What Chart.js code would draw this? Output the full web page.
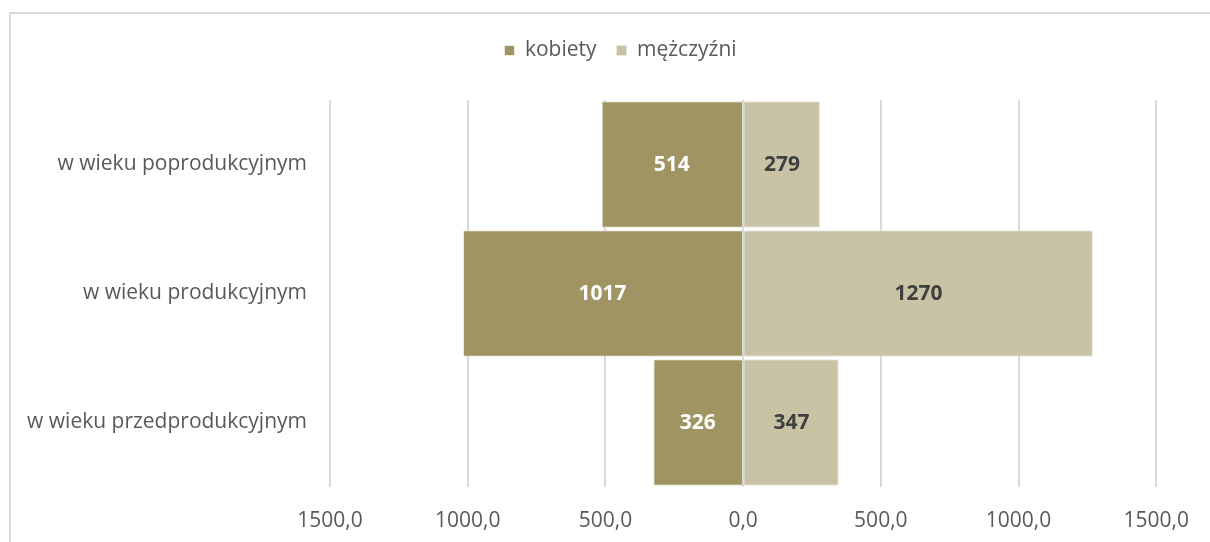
<!DOCTYPE html>
<html>
<head>
<meta charset="utf-8">
<script src="https://cdn.jsdelivr.net/npm/chart.js@4"></script>
<style>
  html,body{margin:0;padding:0;background:#fff;}
  #ramka{position:absolute;left:0;top:0;width:1210px;height:542px;}
  #obwod{position:absolute;left:9px;top:12px;width:1250px;height:600px;border-left:2px solid #d9d9d9;border-top:2px solid #d9d9d9;box-sizing:border-box;}
</style>
</head>
<body>
<div id="obwod"></div>
<div id="ramka"><canvas id="wykres" width="1210" height="542"></canvas></div>
<script>
// grupy wiekowe i wartosci (kobiety po lewej, wiec ujemne na osi)
const kategorie = ['w wieku poprodukcyjnym','w wieku produkcyjnym','w wieku przedprodukcyjnym'];
const kobiety = [514, 1017, 326];
const mezczyzni = [279, 1270, 347];
const ticki = [-1500,-1000,-500,0,500,1000,1500];

const fontRodzina = "'Open Sans', Lato, sans-serif";

// etykiety wartosci na slupkach
const etykiety = {
  id:'etykiety',
  afterDatasetsDraw(chart){
    let ctx = chart.ctx;
    ctx.save();
    ctx.font = "bold 21px " + fontRodzina;
    ctx.textAlign = 'center';
    ctx.textBaseline = 'middle';
    chart.data.datasets.forEach((ds,i)=>{
      chart.getDatasetMeta(i).data.forEach((el,j)=>{
        let p = el.getCenterPoint();
        ctx.fillStyle = i==0 ? '#ffffff' : '#404040';
        ctx.fillText(Math.abs(ds.data[j]), p.x, p.y+1);
      });
    });
    ctx.restore();
  }
};

// linia zera widoczna na slupkach
const liniaZera = {
  id:'liniaZera',
  afterDatasetsDraw(chart){
    let ctx = chart.ctx, x = chart.scales.x.getPixelForValue(0), a = chart.chartArea;
    ctx.save();
    ctx.strokeStyle = '#d9d9d9';
    ctx.lineWidth = 2;
    ctx.beginPath();
    ctx.moveTo(x, a.top);
    ctx.lineTo(x, a.bottom);
    ctx.stroke();
    ctx.restore();
  }
};

// wiecej miejsca pod legenda + przesuniecie w prawo
const odstepLegendy = {
  id:'odstepLegendy',
  beforeInit(chart){
    let lg = chart.legend;
    let fit = lg.fit, draw = lg.draw;
    lg.fit = function(){ fit.apply(lg, arguments); this.height += 29; };
    lg.draw = function(){
      chart.ctx.save();
      chart.ctx.translate(42, 0);
      draw.apply(lg, arguments);
      chart.ctx.restore();
    };
  }
};

new Chart(document.getElementById('wykres').getContext('2d'),{
  type:'bar',
  data:{
    labels:kategorie,
    datasets:[
      {label:'kobiety',data:kobiety.map(v=>-v),backgroundColor:'#a09562',borderColor:'#ece9dd',borderWidth:1,barPercentage:0.98,categoryPercentage:1},
      {label:'mężczyźni',data:mezczyzni,backgroundColor:'#c9c3a5',borderColor:'#ece9dd',borderWidth:1,barPercentage:0.98,categoryPercentage:1}
    ]
  },
  options:{
    responsive:false,
    animation:false,
    indexAxis:'y',
    layout:{padding:{top:20,right:53,bottom:0,left:0}},
    plugins:{
      legend:{
        position:'top',
        labels:{boxWidth:10,boxHeight:10,padding:20,color:'#595959',font:{family:fontRodzina,size:21}}
      },
      tooltip:{enabled:false}
    },
    scales:{
      x:{
        stacked:true,min:-1500,max:1500,
        afterBuildTicks(s){ s.ticks = ticki.map(v=>({value:v})); },
        afterFit(s){ s.height = 55; },
        ticks:{color:'#595959',padding:21,font:{family:fontRodzina,size:21},
          callback:v=>Math.abs(v).toFixed(1).replace('.',',')},
        grid:{color:'#d9d9d9',lineWidth:2,drawTicks:false},
        border:{display:false}
      },
      y:{
        stacked:true,
        afterFit(s){ s.width = 330; },
        ticks:{color:'#595959',padding:15,font:{family:fontRodzina,size:21}},
        grid:{display:false},
        border:{display:false}
      }
    }
  },
  plugins:[etykiety,liniaZera,odstepLegendy]
});
</script>
</body>
</html>
